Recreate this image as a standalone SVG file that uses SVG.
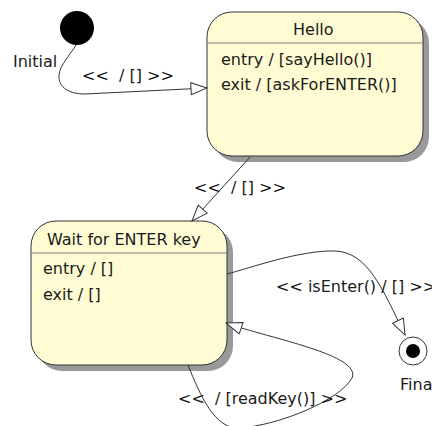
<svg xmlns="http://www.w3.org/2000/svg" width="432" height="426" viewBox="0 0 432 426">
<defs>
<style>
text{font-family:"DejaVu Sans","Liberation Sans",sans-serif;font-size:16px;fill:#1a1a1a}
.shadow{fill:#999999}
.box{fill:#fffcd4;stroke:#333333;stroke-width:1}
.sep{stroke:#808080;stroke-width:1.2}
.edge{fill:none;stroke:#333333;stroke-width:1;marker-end:url(#arr)}
</style>
<marker id="arr" viewBox="0 0 18 13" refX="17" refY="6.5" markerUnits="userSpaceOnUse" markerWidth="18" markerHeight="13" orient="auto">
<path d="M1,0.5 L17,6.5 L1,12.5 Z" fill="#ffffff" stroke="#333333" stroke-width="1"/>
</marker>
</defs>
<rect width="432" height="426" fill="#ffffff"/>
<g id="initial">
<circle cx="77" cy="28" r="17" fill="#000000"/>
<text x="13" y="67">Initial</text>
</g>
<g id="hello">
<rect class="shadow" x="213" y="18" width="216" height="144" rx="25"/>
<rect class="box" x="207" y="12" width="216" height="144" rx="25"/>
<line class="sep" x1="207" y1="43" x2="423" y2="43"/>
<text x="293" y="35">Hello</text>
<text x="221" y="65">entry / [sayHello()]</text>
<text x="221" y="90">exit / [askForENTER()]</text>
</g>
<g id="wait">
<rect class="shadow" x="37" y="227" width="196" height="144" rx="25"/>
<rect class="box" x="31" y="221" width="196" height="144" rx="25"/>
<line class="sep" x1="31" y1="253" x2="227" y2="253"/>
<text x="47" y="245">Wait for ENTER key</text>
<text x="43" y="274">entry / []</text>
<text x="43" y="300">exit / []</text>
</g>
<g id="final">
<circle cx="413" cy="351" r="14" fill="#ffffff" stroke="#333333" stroke-width="1"/>
<circle cx="413" cy="351" r="7" fill="#000000"/>
<text x="400" y="390">Final</text>
</g>
<g id="connectors">
<path class="edge" d="M76,45 C70,55 60,65 59,75 C58,88 70,94 85,94 L207,88"/>
<path class="edge" d="M250,157 L192,221"/>
<path class="edge" d="M227,274 C250,268 300,250 335,251 C368,252 383,290 405,335"/>
<path class="edge" d="M188,365 C200,395 215,430 240,428 C280,425 340,400 352,378 C362,355 272,339 226,323"/>
<text x="82" y="81" xml:space="preserve">&lt;&lt;  / [] &gt;&gt;</text>
<text x="194" y="193" xml:space="preserve">&lt;&lt;  / [] &gt;&gt;</text>
<text x="276" y="292" xml:space="preserve">&lt;&lt; isEnter() / [] &gt;&gt;</text>
<text x="178" y="404" xml:space="preserve">&lt;&lt;  / [readKey()] &gt;&gt;</text>
</g>
</svg>
